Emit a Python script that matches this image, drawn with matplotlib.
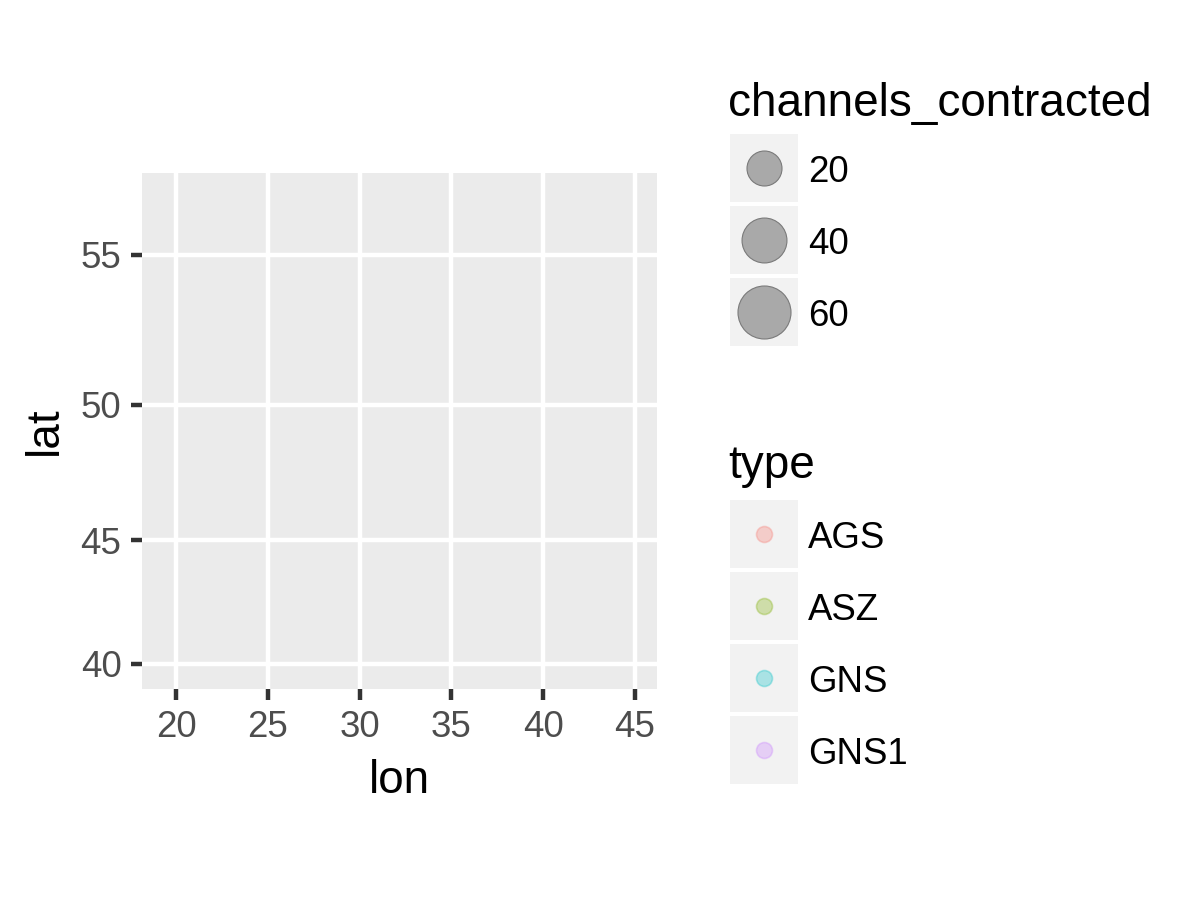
import numpy as np
import matplotlib
matplotlib.use('Agg')
import matplotlib.pyplot as plt
from matplotlib.patches import Rectangle

# data / scales
lon_ticks = [20, 25, 30, 35, 40, 45]
lat_ticks = [40, 45, 50, 55]
lon_limits = [18.14, 46.2]
lat_limits = [38.94, 57.49]

size_title = 'channels_contracted'
size_breaks = [20, 40, 60]

type_title = 'type'
type_levels = ['AGS', 'ASZ', 'GNS', 'GNS1']
type_colors = ['#F8766D', '#7CAE00', '#00BFC4', '#C77CFF']

plt.rcParams['font.family'] = ['Liberation Sans', 'DejaVu Sans']


def merc(lat):
    lat = np.clip(np.asarray(lat, dtype=float), -89, 89)
    return np.log(np.tan(np.pi / 4 + np.radians(lat) / 2))


def merc_inv(y):
    return np.degrees(2 * np.arctan(np.exp(y)) - np.pi / 2)


fig = plt.figure(figsize=(12, 9), dpi=100)
W, H = 1200, 900

# panel in pixel box
px0, px1, py0, py1 = 142, 657, 173, 689
ax = fig.add_axes([px0 / W, 1 - py1 / H, (px1 - px0) / W, (py1 - py0) / H])
ax.set_facecolor('#EBEBEB')
ax.set_yscale('function', functions=(merc, merc_inv))
ax.set_xlim(*lon_limits)
ax.set_ylim(*lat_limits)
ax.set_xticks(lon_ticks)
ax.set_yticks(lat_ticks)
ax.minorticks_off()
ax.grid(True, color='white', linewidth=3.2)
ax.set_axisbelow(True)
for s in ax.spines.values():
    s.set_visible(False)
ax.tick_params(length=8.25, width=3.2, color='#333333', labelcolor='#4D4D4D',
               labelsize=26.4, pad=6.6)
ax.set_xlabel('lon', fontsize=33, labelpad=10)
ax.set_ylabel('lat', fontsize=33, labelpad=10)

# legends drawn in pixel space
lg = fig.add_axes([0, 0, 1, 1])
lg.set_xlim(0, W)
lg.set_ylim(H, 0)
lg.axis('off')

key_x0, key_w, pitch = 730, 68, 72
text_x = 808


def size_px(v):
    return np.sqrt(np.interp(v, [20, 60], [35 ** 2, 53 ** 2]))


lg.text(728, 116, size_title, fontsize=33, va='baseline', ha='left')
for i, v in enumerate(size_breaks):
    cy = 168 + i * pitch
    lg.add_patch(Rectangle((key_x0, cy - key_w / 2), key_w, key_w,
                           facecolor='#F2F2F2', edgecolor='none'))
    d = size_px(v) * 0.72
    lg.scatter([key_x0 + key_w / 2], [cy], s=d ** 2, facecolor='#A9A9A9',
               edgecolor='#7A7A7A', linewidth=0.8, zorder=3)
    lg.text(text_x, cy, str(v), fontsize=26.4, va='center_baseline', ha='left')

lg.text(728, 478, type_title, fontsize=33, va='baseline', ha='left')
for i, (lab, col) in enumerate(zip(type_levels, type_colors)):
    cy = 534 + i * pitch
    lg.add_patch(Rectangle((key_x0, cy - key_w / 2), key_w, key_w,
                           facecolor='#F2F2F2', edgecolor='none'))
    lg.scatter([key_x0 + key_w / 2], [cy], s=(16 * 0.72) ** 2, color=col,
               alpha=0.3, linewidth=1.2, zorder=3)
    lg.text(text_x, cy, lab, fontsize=26.4, va='center_baseline', ha='left')

fig.savefig('out.png', dpi=100)
